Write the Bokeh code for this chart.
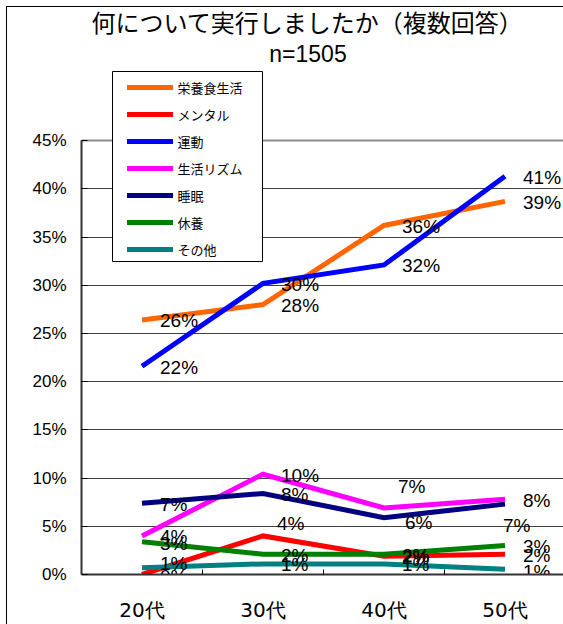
from bokeh.plotting import figure
from bokeh.models import (ColumnDataSource, Range1d, FixedTicker, Legend, LegendItem,
                          Label, BoxAnnotation, Grid, CustomJSTickFormatter)
from bokeh.core.properties import value
from bokeh.embed import file_html
from bokeh.resources import INLINE

# --- data -------------------------------------------------------------
ages = ["20代", "30代", "40代", "50代"]

eiyou_shokuseikatsu = [26.4, 28.0, 36.2, 38.7]   # 栄養食生活
mental = [0.0, 4.0, 1.9, 2.1]                    # メンタル
undou = [21.6, 30.2, 32.1, 41.3]                 # 運動
seikatsu_rhythm = [4.0, 10.4, 6.9, 7.8]          # 生活リズム
suimin = [7.4, 8.4, 5.9, 7.3]                    # 睡眠
kyuuyou = [3.4, 2.1, 2.1, 3.0]                   # 休養
sonota = [0.7, 1.1, 1.1, 0.55]                   # その他

series_names = ["栄養食生活", "メンタル", "運動", "生活リズム", "睡眠", "休養", "その他"]
series_values = [eiyou_shokuseikatsu, mental, undou, seikatsu_rhythm, suimin, kyuuyou, sonota]

y_ticks = [0, 5, 10, 15, 20, 25, 30, 35, 40, 45]

title_text = "何について実行しましたか（複数回答）"
subtitle_text = "n=1505"

# --- styling ----------------------------------------------------------
colors = ["#FF6600", "#FF0000", "#0000FF", "#FF00FF", "#000080", "#008000", "#008080"]

# label placement: default offset from each point, plus a few hand nudges
LABEL_DX, LABEL_DY = 18, 1
nudges = {
    ("生活リズム", 2): (-4, -22),
    ("睡眠", 2): (3, 4),
    ("メンタル", 1): (-4, -13),
    ("睡眠", 3): (-20, 20),
    ("その他", 0): (0, -5),
    ("その他", 3): (0, 1),
    ("休養", 0): (0, 1),
    ("メンタル", 0): (0, 1),
}

LEFT, TOP, BOTTOM = 81, 7, 42
W, H = 563, 624
PX_PER_CAT = 121.0
PX_PER_PCT = 9.778

xs = [i + 0.5 for i in range(len(ages))]

p = figure(width=W, height=H,
           x_range=Range1d(0, (W - LEFT) / PX_PER_CAT),
           y_range=Range1d(0, (H - TOP - BOTTOM) / PX_PER_PCT),
           output_backend="svg", toolbar_location=None,
           min_border_left=LEFT, min_border_right=0,
           min_border_top=TOP, min_border_bottom=BOTTOM)
p.outline_line_color = None
p.background_fill_color = "white"
# leave the margin transparent so the chart-area border drawn on the host shows
p.border_fill_color = None
p.styles = {
    "background":
        "linear-gradient(#000, #000) 6px 6px / 1px 100% no-repeat, "
        "linear-gradient(#000, #000) 6px 6px / 100% 1px no-repeat, "
        "#ffffff",
}

# y axis
yax = p.yaxis[0]
yax.ticker = FixedTicker(ticks=y_ticks)
yax.bounds = (0, 45)
yax.formatter = CustomJSTickFormatter(code="return tick + '%'")
yax.major_label_text_font = "Liberation Sans"
yax.major_label_text_font_size = "17px"
yax.major_label_text_color = "black"
yax.major_tick_in = 6
yax.major_tick_out = 0
yax.major_tick_line_color = "black"
yax.minor_tick_line_color = None
yax.axis_line_width = 2
yax.axis_line_color = "#333333"
yax.major_label_standoff = 15

# x axis: labels at category centres, small tick marks between categories
xax = p.xaxis[0]
xax.ticker = FixedTicker(ticks=xs, minor_ticks=[1, 2, 3])
xax.formatter = CustomJSTickFormatter(args=dict(labels=ages),
                                      code="return labels[Math.floor(tick)]")
xax.major_label_text_font = "DejaVu Sans"
xax.major_label_text_font_size = "20px"
xax.major_label_text_color = "black"
xax.major_tick_line_color = None
xax.major_tick_in = 0
xax.major_tick_out = 0
xax.minor_tick_in = 5
xax.minor_tick_out = 0
xax.minor_tick_line_color = "black"
xax.axis_line_width = 2
xax.axis_line_color = "#333333"
xax.major_label_standoff = 23

# grid lines
p.xgrid.visible = False
p.ygrid.ticker = FixedTicker(ticks=y_ticks[1:-1])
p.ygrid.grid_line_color = "#404040"
p.ygrid.grid_line_width = 1
p.add_layout(Grid(dimension=1, ticker=FixedTicker(ticks=[45]),
                  grid_line_color="#8c8c8c", grid_line_width=2))

# series lines
for name, vals, col in zip(series_names, series_values, colors):
    p.line(xs, vals, line_color=col, line_width=5, line_join="miter")

# value labels
lx, ly, lt, ldx, ldy = [], [], [], [], []
for name, vals in zip(series_names, series_values):
    for i, v in enumerate(vals):
        ddx, ddy = nudges.get((name, i), (0, 0))
        lx.append(xs[i])
        ly.append(v)
        lt.append(f"{v:.0f}%")
        ldx.append(LABEL_DX + ddx)
        ldy.append(LABEL_DY + ddy)
label_src = ColumnDataSource(dict(x=lx, y=ly, text=lt, dx=ldx, dy=ldy))
p.text(x="x", y="y", text="text", source=label_src,
       x_offset="dx", y_offset="dy",
       text_font=value("Liberation Sans"), text_font_size=value("19px"),
       text_color="black", text_align="left", text_baseline="middle")

# legend: white box with border, then the entries
p.add_layout(BoxAnnotation(left=112 - LEFT, right=262 - LEFT,
                           top=H - BOTTOM - 79, bottom=H - BOTTOM - 269,
                           left_units="screen", right_units="screen",
                           top_units="screen", bottom_units="screen",
                           fill_color="white", fill_alpha=1,
                           line_color="black", line_width=1, line_alpha=1))

legend_items = []
for name, col in zip(series_names, colors):
    # off-range swatch line so the legend can use round caps
    swatch = p.line([-5, -4], [-5, -5], line_color=col, line_width=5, line_cap="round")
    legend_items.append(LegendItem(label=name, renderers=[swatch]))

legend = Legend(items=legend_items, location=(126.5 - LEFT, H - BOTTOM - 267),
                glyph_width=46, glyph_height=20, label_height=20,
                spacing=7, padding=3, label_standoff=5, margin=0,
                border_line_color=None, background_fill_alpha=0,
                label_text_font="Noto Sans CJK JP", label_text_font_size="13px",
                label_text_color="black")
p.add_layout(legend)

# titles
p.add_layout(Label(x=307 - LEFT, y=H - BOTTOM - 29, x_units="screen", y_units="screen",
                   text=title_text, text_align="center", text_baseline="middle",
                   text_font="Noto Sans CJK JP", text_font_size="24px",
                   text_color="black"))
p.add_layout(Label(x=307.5 - LEFT, y=H - BOTTOM - 61, x_units="screen", y_units="screen",
                   text=subtitle_text, text_align="center", text_baseline="middle",
                   text_font="Liberation Sans", text_font_size="23px",
                   text_color="black"))

open("out.html", "w").write(file_html(p, INLINE))
